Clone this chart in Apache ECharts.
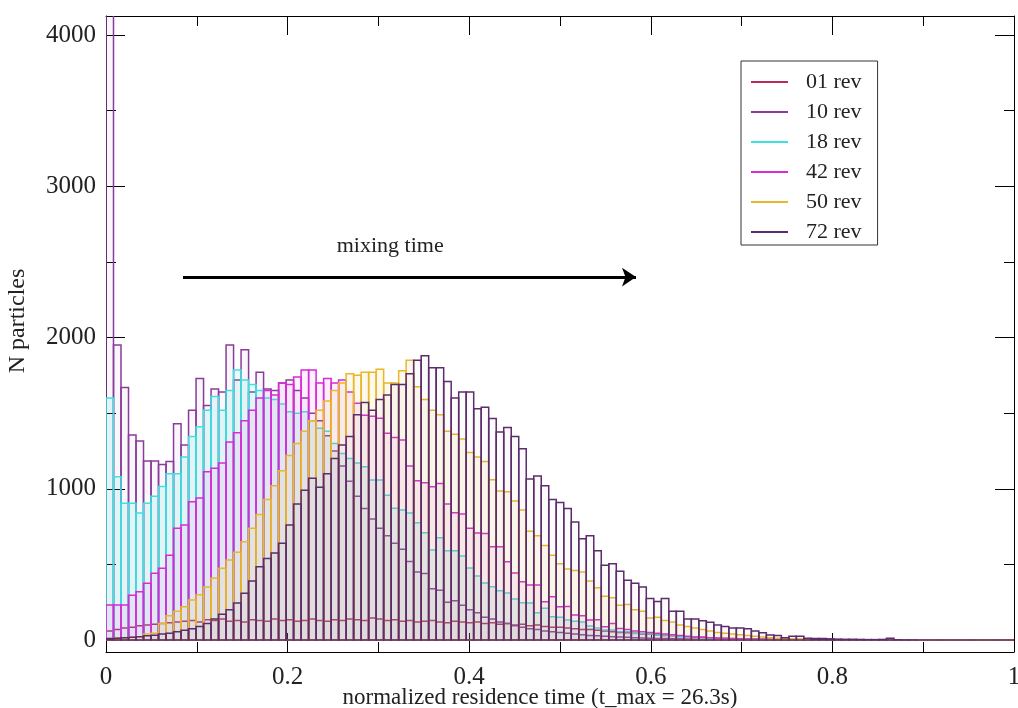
<!DOCTYPE html>
<html>
<head>
<meta charset="utf-8">
<script src="https://cdn.jsdelivr.net/npm/echarts@6.0.0/dist/echarts.min.js"></script>
<style>
  html, body { margin: 0; padding: 0; background: #fff; }
  #chartContainer { width: 1018px; height: 708px; }
</style>
</head>
<body>
<div id="chartContainer"></div>
<script>
// ancho de cada intervalo del histograma (tiempo normalizado)
const BIN_WIDTH = 1 / 121;

const seriesNames = ['01 rev', '10 rev', '18 rev', '42 rev', '50 rev', '72 rev'];
const seriesColors = ['#b82c58', '#8a3c9c', '#3ee0e0', '#d82ad8', '#e8b828', '#5c2c6c'];
const fillAlphas = [0.02, 0.04, 0.12, 0.07, 0.08, 0.02];

// partículas por intervalo
const rev01 = [
  60, 70, 80, 85, 95, 100, 105, 110, 115, 120,
  125, 130, 120, 135, 130, 140, 125, 130, 120, 135,
  130, 125, 140, 130, 135, 125, 130, 140, 130, 125,
  135, 130, 140, 135, 130, 145, 140, 130, 135, 125,
  130, 120, 125, 130, 120, 115, 125, 120, 115, 120,
  110, 115, 105, 110, 100, 105, 95, 100, 90, 85,
  85, 80, 75, 70, 70, 65, 60, 55, 50, 48,
  45, 40, 38, 35, 30, 28, 25, 22, 20, 18,
  15, 14, 12, 10, 9, 8, 7, 6, 5, 4,
  4, 3, 3, 2, 2, 2, 1, 1, 1, 0,
  0, 0, 0, 0, 0, 0, 0, 0, 0, 0,
  0, 0, 0, 0, 0, 0, 0, 0, 0, 0, 0
];
const rev10 = [
  4500, 1950, 1670, 1355, 1316, 1183, 1183, 1161, 1180, 1430,
  1290, 1520, 1730, 1550, 1660, 1640, 1950, 1720, 1920, 1640,
  1770, 1660, 1650, 1700, 1720, 1650, 1600, 1500, 1450, 1350,
  1250, 1150, 1050, 950, 870, 800, 740, 690, 640, 600,
  520, 450, 440, 340, 330, 250, 260, 230, 200, 180,
  150, 140, 120, 110, 95, 85, 75, 70, 60, 55,
  50, 45, 40, 35, 30, 28, 25, 22, 20, 18,
  15, 14, 12, 11, 10, 9, 8, 7, 6, 5,
  5, 4, 4, 3, 3, 2, 2, 2, 1, 1,
  0, 0, 0, 0, 0, 0, 0, 0, 0, 0,
  0, 0, 0, 0, 0, 0, 0, 0, 0, 0,
  0, 0, 0, 0, 0, 0, 0, 0, 0, 0, 0
];
const rev18 = [
  1600, 1080, 905, 905, 840, 905, 950, 1015, 1100, 1100,
  1210, 1345, 1410, 1520, 1610, 1520, 1650, 1785, 1720, 1690,
  1650, 1600, 1590, 1560, 1510, 1500, 1510, 1450, 1400, 1380,
  1300, 1234, 1200, 1170, 1146, 1058, 1058, 958, 871, 860,
  840, 776, 710, 595, 676, 590, 590, 555, 476, 423,
  377, 352, 326, 311, 271, 247, 245, 181, 211, 154,
  150, 132, 125, 120, 93, 79, 66, 66, 55, 55,
  44, 44, 40, 33, 33, 30, 22, 22, 20, 15,
  12, 10, 9, 8, 7, 6, 5, 4, 3, 3,
  2, 2, 2, 1, 1, 1, 0, 0, 0, 0,
  0, 0, 0, 0, 0, 0, 0, 0, 0, 0,
  0, 0, 0, 0, 0, 0, 0, 0, 0, 0, 0
];
const rev42 = [
  231, 231, 231, 297, 320, 376, 442, 475, 560, 740,
  760, 915, 940, 1113, 1136, 1170, 1310, 1370, 1450, 1520,
  1600, 1650, 1620, 1700, 1690, 1740, 1785, 1785, 1700, 1730,
  1700, 1720, 1640, 1566, 1487, 1480, 1467, 1368, 1340, 1322,
  1150, 1053, 1040, 1013, 1035, 900, 842, 833, 740, 707,
  705, 617, 617, 518, 443, 386, 364, 364, 253, 287,
  220, 222, 165, 160, 132, 135, 88, 110, 77, 70,
  60, 55, 50, 45, 40, 35, 30, 25, 20, 18,
  15, 12, 10, 9, 8, 7, 6, 5, 4, 3,
  3, 2, 2, 2, 1, 1, 1, 0, 0, 0,
  0, 0, 0, 0, 0, 0, 0, 0, 0, 0,
  0, 0, 0, 0, 0, 0, 0, 0, 0, 0, 0
];
const rev50 = [
  10, 15, 15, 20, 22, 40, 45, 110, 160, 190,
  220, 265, 300, 350, 410, 475, 530, 580, 650, 740,
  830, 930, 1020, 1120, 1220, 1300, 1380, 1450, 1520, 1580,
  1650, 1700, 1760, 1750, 1770, 1770, 1790, 1700, 1700, 1780,
  1850, 1675, 1590, 1520, 1490, 1380, 1360, 1330, 1240, 1210,
  1180, 1060, 985, 980, 920, 860, 720, 690, 625, 560,
  505, 470, 460, 450, 390, 345, 290, 280, 230, 235,
  200, 190, 145, 150, 130, 120, 100, 90, 80, 70,
  60, 50, 45, 40, 35, 30, 25, 20, 15, 12,
  10, 8, 7, 6, 5, 4, 3, 2, 2, 1,
  0, 0, 0, 0, 0, 0, 0, 0, 0, 0,
  0, 0, 0, 0, 0, 0, 0, 0, 0, 0, 0
];
const rev72 = [
  10, 12, 15, 18, 22, 28, 32, 40, 45, 55,
  65, 75, 90, 110, 140, 170, 200, 245, 310, 390,
  485, 540, 575, 640, 760, 900, 990, 1070, 1010, 1100,
  1200, 1290, 1345, 1490, 1570, 1520, 1590, 1620, 1690, 1690,
  1760, 1850, 1880, 1800, 1800, 1710, 1600, 1640, 1640, 1530,
  1540, 1465, 1375, 1405, 1345, 1265, 1065, 1085, 1020, 930,
  910, 870, 780, 670, 690, 590, 495, 505, 455, 395,
  375, 350, 275, 255, 275, 190, 190, 140, 140, 128,
  117, 100, 90, 80, 80, 75, 60, 48, 33, 30,
  15, 25, 25, 12, 10, 10, 8, 6, 5, 5,
  4, 3, 3, 4, 12, 2, 1, 1, 0, 0,
  0, 0, 0, 0, 0, 0, 0, 0, 0, 0, 0
];
const seriesValues = [rev01, rev10, rev18, rev42, rev50, rev72];

// marcas de los ejes
const xMajorInterval = 0.2;
const yLabelValues = [0, 1000, 2000, 3000, 4000];
const yMinorTicks = [500, 1500, 2500, 3500];

// flecha "mixing time" (coordenadas de datos)
const arrowFrom = [0.0848, 2400];
const arrowTo = [0.5837, 2400];
const arrowTextAt = [0.313, 2604];

const FONT = '"Liberation Serif", "Times New Roman", serif';

function withAlpha(hex, a) {
  const n = parseInt(hex.slice(1), 16);
  return 'rgba(' + (n >> 16) + ',' + ((n >> 8) & 255) + ',' + (n & 255) + ',' + a + ')';
}

function binRenderer(color, fillAlpha) {
  return function (params, api) {
    const x0 = api.value(0);
    const base = api.coord([x0, 0]);
    const top = api.coord([x0 + BIN_WIDTH, api.value(1)]);
    return {
      type: 'rect',
      shape: { x: base[0], y: top[1], width: top[0] - base[0], height: base[1] - top[1] },
      style: { fill: withAlpha(color, fillAlpha), stroke: color, lineWidth: 1.5 }
    };
  };
}

const yExtent = { min: -79, max: 4126 };

function yAxisFor(position, ticks, len, labels, showLine) {
  return {
    type: 'value', position: position, min: yExtent.min, max: yExtent.max,
    axisLine: { show: showLine, onZero: false, lineStyle: { color: '#000', width: 1 } },
    axisTick: { show: true, inside: true, length: len, customValues: ticks, lineStyle: { color: '#000' } },
    axisLabel: labels ? {
      show: true, customValues: labels, fontFamily: FONT, fontSize: 25, color: '#222', margin: 10,
      formatter: function (v) { return String(v); }
    } : { show: false },
    splitLine: { show: false }
  };
}

function xAxisFor(position, withLabels) {
  return {
    type: 'value', position: position, min: 0, max: 1, interval: xMajorInterval,
    axisLine: { show: true, onZero: false, lineStyle: { color: '#000', width: 1 } },
    axisTick: { show: true, inside: true, length: 19, lineStyle: { color: '#000' } },
    minorTick: { show: true, splitNumber: 2, length: 10, lineStyle: { color: '#000' } },
    axisLabel: withLabels ? { fontFamily: FONT, fontSize: 25, color: '#222', margin: 13 } : { show: false },
    splitLine: { show: false },
    minorSplitLine: { show: false }
  };
}

const xBottom = xAxisFor('bottom', true);
xBottom.name = 'normalized residence time (t_max = 26.3s)';
xBottom.nameLocation = 'middle';
xBottom.nameGap = 34;
xBottom.nameMoveOverlap = false;
xBottom.nameTextStyle = { fontFamily: FONT, fontSize: 23, color: '#222', padding: [0, 40, 0, 0] };

const yLeft = yAxisFor('left', yLabelValues, 19, yLabelValues, true);
yLeft.name = 'N particles';
yLeft.nameLocation = 'middle';
yLeft.nameGap = 76;
yLeft.nameMoveOverlap = false;
yLeft.nameTextStyle = { fontFamily: FONT, fontSize: 24, color: '#222', padding: [0, 0, 0, 26] };

const series = seriesNames.map(function (name, k) {
  return {
    name: name,
    type: 'custom',
    coordinateSystem: 'cartesian2d',
    xAxisIndex: 0,
    yAxisIndex: 0,
    clip: true,
    itemStyle: { color: seriesColors[k] },
    renderItem: binRenderer(seriesColors[k], fillAlphas[k]),
    data: seriesValues[k].map(function (v, i) { return [i * BIN_WIDTH, v]; }),
    z: 2 + k
  };
});

// flecha y texto sobre la última serie
series[5].markLine = {
  silent: true,
  symbol: ['none', 'arrow'],
  symbolSize: 14,
  lineStyle: { color: '#000', width: 3, type: 'solid' },
  label: { show: false },
  data: [[{ coord: arrowFrom }, { coord: arrowTo }]]
};
series[5].markPoint = {
  silent: true,
  symbol: 'circle',
  symbolSize: 1,
  itemStyle: { color: 'rgba(0,0,0,0)' },
  label: { show: true, position: 'inside', formatter: 'mixing time', fontFamily: FONT, fontSize: 22, color: '#222' },
  data: [{ coord: arrowTextAt }]
};

const chartOptions = {
  animation: false,
  backgroundColor: '#fff',
  grid: { left: 106, right: 4, top: 16, bottom: 56, containLabel: false, outerBoundsMode: 'none' },
  legend: {
    orient: 'vertical', left: 741, top: 61,
    padding: [10, 16, 2, 10],
    itemWidth: 37, itemHeight: 2, itemGap: 8,
    icon: 'rect',
    borderColor: '#333', borderWidth: 1, backgroundColor: '#fff',
    textStyle: { fontFamily: FONT, fontSize: 22, color: '#222', lineHeight: 20, padding: [0, 0, 0, 13] },
    data: seriesNames
  },
  xAxis: [xBottom, xAxisFor('top', false)],
  yAxis: [
    yLeft,
    yAxisFor('left', yMinorTicks, 10, null, false),
    yAxisFor('right', yLabelValues, 19, null, true),
    yAxisFor('right', yMinorTicks, 10, null, false)
  ],
  series: series
};

const chartContainer = document.getElementById('chartContainer');
const chart = echarts.init(chartContainer);
chart.setOption(chartOptions);
</script>
</body>
</html>
